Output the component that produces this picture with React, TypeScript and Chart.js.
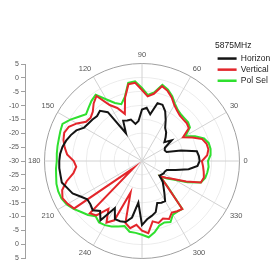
import React, { useEffect, useRef } from 'react';
import { Chart, registerables } from 'chart.js';

Chart.register(...registerables);
Chart.defaults.font.family = "'Liberation Sans', Arial, sans-serif";
Chart.defaults.color = '#444';

// ---------- data ----------
const TITLE = '5875MHz';
const SERIES = ['Horizontal', 'Vertical', 'Pol Sel'];
const COLORS = ['#141414', '#e3262b', '#2fe02f'];

const ANGLES = [
  0, 5, 10, 15, 20, 25, 30, 35, 40, 45, 50, 55,
  60, 65, 70, 75, 80, 85, 90, 95, 100, 105, 110, 115,
  120, 125, 130, 135, 140, 145, 150, 155, 160, 165, 170, 175,
  180, 185, 190, 195, 200, 205, 210, 215, 220, 225, 230, 235,
  240, 245, 250, 255, 260, 265, 270, 275, 280, 285, 290, 295,
  300, 305, 310, 315, 320, 325, 330, 335, 340, 345, 350, 355,
];

const HORIZONTAL = [
  -9.3, -9.5, -10, -15.5, -20.6, -21, -20.5, -17, -19.5, -18, -16.5, -15.5,
  -13, -10.3, -8.5, -8.5, -13, -10.8, -11.5, -15.6, -16.5, -14.6, -14.5, -14,
  -18.5, -8.6, -6.5, -7.2, -6.8, -6.5, -6, -4, -2.8, -1.8, -1, -0.5,
  -0.3, -0.2, -0.3, -0.2, -1.5, -2.5, -4.5, -6, -5.8, -5, -6.6, -4,
  -10.5, -7, -7, -7.3, -9.4, -15, -7, -9, -10, -11, -14, -13.5,
  -13.4, -16, -18, -19.5, -21.8, -21.5, -21, -21, -20.5, -17.5, -13, -10,
];

const VERTICAL = [
  -8.5, -6.5, -5.8, -6, -7, -10, -13, -9.5, -9, -9, -8.8, -8,
  -6.8, -4.8, -3.2, -2.2, -5.5, -6.7, -4.5, -1.8, -2, -6.5, -12, -9,
  -6.8, -1.5, -3, -5, -5.9, -5.5, -3, -1, -0.3, -0.8, -1.8, -3,
  -5.5, -6.3, -5, -2, 0.5, 1.5, 0.8, -0.3, -26, -3.5, -4.5, -9,
  -4.5, -6.5, -18, -7, -5.5, -7, -5, -4, -8, -7, -8, -7,
  -8.6, -8, -7.5, -17.5, -21.5, -19.5, -17, -12.5, -7.5, -7, -7.5, -8,
];

const POL_SEL = [
  -6.3, -5.3, -5, -5.2, -6.3, -9, -12, -9, -8.4, -8.4, -8.2, -7.6,
  -6.3, -4.3, -2.7, -1.7, -5, -6.2, -3.8, -1.3, -1.5, -6.2, -8.3, -7,
  -4.5, -1, -1.8, -2.9, -3.8, -2.3, -0.3, 1.5, 1.2, 0.9, 0.8, 0.7,
  0.6, 1, 1.3, 1.8, 2, 1.9, 1.2, 0, -1.5, -2.6, -4.1, -3.1,
  -3.4, -4.1, -5, -5.8, -4.2, -4.1, -3.5, -2.5, -4, -6, -6.5, -5.8,
  -7.8, -7.8, -7.5, -17, -21.5, -19, -16.5, -12, -7.5, -6.5, -6.2, -6,
];

const R_MIN = -30;
const R_MAX = 5;
const R_STEP = 5;
const LABEL_EVERY = 30;

const SIDE_MIN = -35;
const SIDE_MAX = 35;
const SIDE_TICK_LABELS = ['5', '0', '-5', '-10', '-15', '-20', '-25', '-30', '-25', '-20', '-15', '-10', '-5', '0', '5'];

// ---------- layout ----------
const CX = 142;
const CY = 161;
const R = 97;

function PolarChart() {
  const ref = useRef<HTMLCanvasElement>(null);
  useEffect(() => {
    const canvas = ref.current!;
    const n = ANGLES.length;
    const order = ANGLES.map((_, i) => (n - i) % n);
    const labels = order.map((k) => (ANGLES[k] % LABEL_EVERY === 0 ? String(ANGLES[k]) : ''));
    const all = [HORIZONTAL, VERTICAL, POL_SEL];
    const build = (size: number) => {
      canvas.width = size;
      canvas.height = size;
      canvas.style.width = size + 'px';
      canvas.style.height = size + 'px';
      return new Chart(canvas, {
        type: 'radar',
        data: {
          labels,
          datasets: SERIES.map((name, s) => ({
            label: name,
            data: order.map((k) => all[s][k]),
            borderColor: COLORS[s],
            backgroundColor: COLORS[s],
            borderWidth: 2,
            pointRadius: 0,
            pointHoverRadius: 0,
            fill: false,
            tension: 0,
          })),
        },
        options: {
          animation: false,
          responsive: false,
          maintainAspectRatio: false,
          layout: { padding: 0 },
          plugins: { legend: { display: false }, tooltip: { enabled: false } },
          scales: {
            r: {
              min: R_MIN,
              max: R_MAX,
              startAngle: 90,
              ticks: { display: false, stepSize: R_STEP },
              grid: {
                circular: true,
                color: (c: any) => (c.tick && c.tick.value === R_MAX ? '#a0a0a0' : '#ececec'),
                lineWidth: 1,
              },
              angleLines: {
                display: true,
                color: '#d2d2d2',
                lineWidth: (c: any) => (c.label ? 1 : 0),
              },
              pointLabels: {
                display: true,
                padding: 4,
                color: '#555',
                font: { size: 7.5 },
              },
            },
          },
        } as any,
      });
    };
    let size = 230;
    let chart = build(size);
    for (let i = 0; i < 4; i++) {
      const r = (chart.scales.r as any).drawingArea;
      const diff = R - r;
      if (Math.abs(diff) < 0.5) break;
      chart.destroy();
      size = Math.round(size + 2 * diff);
      chart = build(size);
    }
    const sc = chart.scales.r as any;
    canvas.style.left = CX - sc.xCenter + 'px';
    canvas.style.top = CY - sc.yCenter + 'px';
    return () => chart.destroy();
  }, []);
  return <canvas ref={ref} style={{ position: 'absolute', left: 0, top: 0 }} />;
}

const SIDE_TOP = 40;
const SIDE_H = 240;

function SideAxis() {
  const ref = useRef<HTMLCanvasElement>(null);
  useEffect(() => {
    const chart = new Chart(ref.current!, {
      type: 'line',
      data: { datasets: [] },
      options: {
        animation: false,
        responsive: false,
        layout: { padding: { top: CY - R - SIDE_TOP, bottom: SIDE_TOP + SIDE_H - (CY + R), left: 0, right: 0 } },
        plugins: { legend: { display: false }, tooltip: { enabled: false } },
        scales: {
          x: { type: 'linear', display: false },
          y: {
            type: 'linear',
            min: SIDE_MIN,
            max: SIDE_MAX,
            afterFit: (s: any) => {
              s.width = 25;
            },
            ticks: {
              stepSize: 5,
              autoSkip: false,
              color: '#555',
              padding: 2,
              font: { size: 7 },
              callback: (_v: any, i: number) => SIDE_TICK_LABELS[i],
            },
            grid: { display: true, drawOnChartArea: false, drawTicks: true, tickLength: 4, color: '#a0a0a0' },
            border: { display: true, color: '#a0a0a0' },
          },
        },
      } as any,
    });
    return () => chart.destroy();
  }, []);
  return (
    <canvas
      ref={ref}
      width={40}
      height={SIDE_H}
      style={{ position: 'absolute', left: 0, top: SIDE_TOP, width: 40, height: SIDE_H }}
    />
  );
}

function LegendBox() {
  const ref = useRef<HTMLCanvasElement>(null);
  useEffect(() => {
    const chart = new Chart(ref.current!, {
      type: 'line',
      data: {
        datasets: SERIES.map((name, i) => ({
          label: name,
          data: [],
          borderColor: COLORS[i],
          backgroundColor: COLORS[i],
          borderWidth: 0,
        })),
      },
      options: {
        animation: false,
        responsive: false,
        layout: { padding: 0 },
        scales: { x: { type: 'linear', display: false }, y: { display: false } },
        plugins: {
          tooltip: { enabled: false },
          legend: {
            position: 'left',
            align: 'start',
            title: {
              display: true,
              text: TITLE,
              position: 'start',
              color: '#222',
              padding: { top: 2, bottom: 0.5 },
              font: { size: 8.5 },
            },
            labels: {
              boxWidth: 19,
              boxHeight: 2.5,
              padding: 2.6,
              color: '#222',
              font: { size: 8.5 },
            },
          },
        },
      } as any,
    });
    return () => chart.destroy();
  }, []);
  return (
    <canvas
      ref={ref}
      width={110}
      height={60}
      style={{ position: 'absolute', left: 215, top: 39, width: 110, height: 60 }}
    />
  );
}

export default function App() {
  return (
    <div
      style={{
        position: 'fixed',
        left: 0,
        top: 0,
        width: 278,
        height: 263,
        overflow: 'hidden',
        background: '#fff',
      }}
    >
      <PolarChart />
      <SideAxis />
      <LegendBox />
    </div>
  );
}
